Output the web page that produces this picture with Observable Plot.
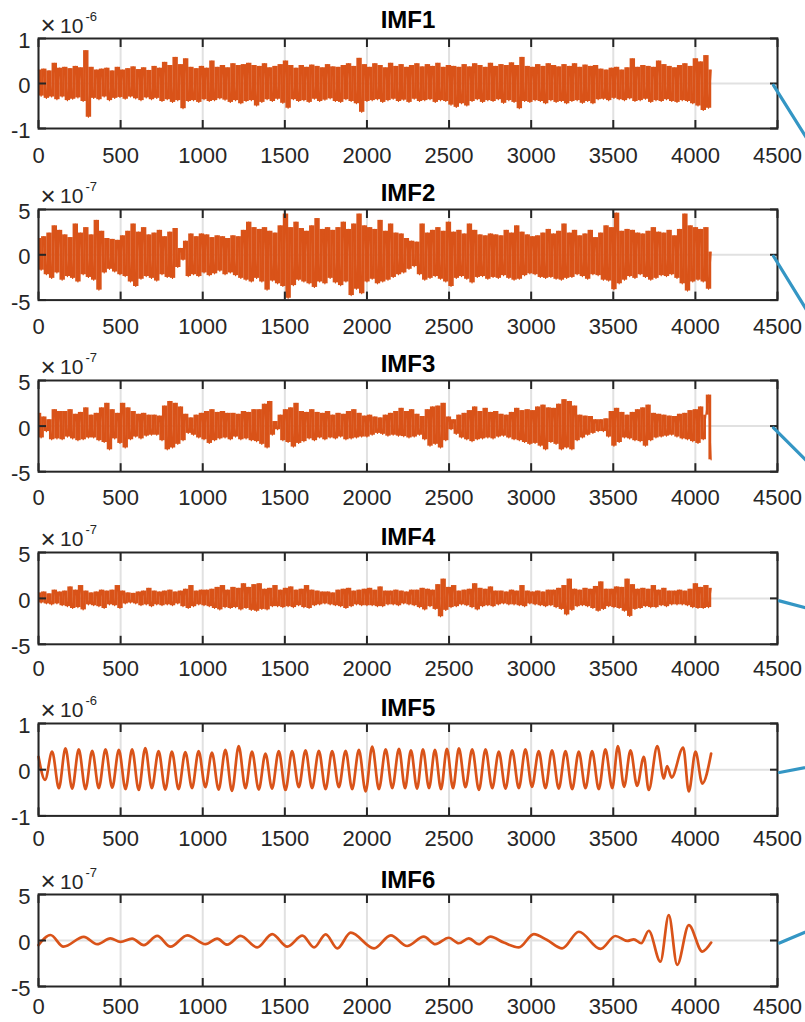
<!DOCTYPE html>
<html><head><meta charset="utf-8">
<script src="https://cdn.jsdelivr.net/npm/d3@7"></script>
<script src="https://cdn.jsdelivr.net/npm/@observablehq/plot@0.6"></script>
<style>
html,body{margin:0;padding:0;background:#fff;overflow:hidden;}
#chart{position:relative;width:805px;height:1022px;overflow:hidden;background:#fff;}
#chart svg{position:absolute;left:0;}
</style></head><body><div id="chart"></div>
<script>
// ---------- data ----------
const titles = ["IMF1","IMF2","IMF3","IMF4","IMF5","IMF6"];
const exponents = ["-6","-7","-7","-7","-6","-7"];
const yLimits = [1,5,5,5,1,5];
const xTicks = [0,500,1000,1500,2000,2500,3000,3500,4000,4500];
const sampleStep = 16; // sample spacing of the noisy IMFs (x = index * step)

const imf1 = [
.30,-.28,.32,-.33,.28,-.30,.45,-.36,.34,-.30,.36,-.38,.33,-.35,.38,-.32,
.35,-.40,.73,-.75,.36,-.33,.30,-.36,.32,-.30,.34,-.38,.28,-.33,.36,-.31,
.30,-.35,.33,-.30,.37,-.34,.31,-.38,.35,-.32,.29,-.36,.38,-.33,.34,-.40,
.47,-.36,.40,-.42,.58,-.38,.42,-.56,.55,-.40,.36,-.38,.33,-.42,.38,-.36,
.34,-.40,.50,-.38,.36,-.34,.40,-.37,.35,-.42,.44,-.38,.40,-.45,.42,-.40,
.45,-.38,.40,-.50,.38,-.42,.44,-.36,.35,-.40,.38,-.35,.42,-.44,.50,-.55,
.40,-.36,.34,-.40,.40,-.38,.36,-.42,.41,-.35,.38,-.40,.35,-.37,.42,-.34,
.37,-.40,.36,-.42,.40,-.36,.44,-.40,.38,-.45,.56,-.64,.42,-.40,.36,-.38,
.44,-.36,.40,-.42,.35,-.38,.45,-.35,.38,-.40,.42,-.37,.36,-.42,.40,-.35,
.44,-.40,.37,-.38,.42,-.36,.38,-.42,.45,-.38,.36,-.40,.40,-.48,.38,-.53,
.36,-.45,.42,-.50,.37,-.40,.44,-.36,.40,-.42,.36,-.38,.45,-.40,.38,-.36,
.42,-.44,.40,-.38,.46,-.42,.40,-.56,.58,-.40,.38,-.42,.36,-.38,.42,-.40,
.38,-.45,.44,-.38,.40,-.42,.37,-.40,.42,-.45,.38,-.40,.44,-.38,.36,-.44,
.41,-.40,.38,-.45,.40,-.36,.32,-.35,.30,-.38,.34,-.33,.36,-.36,.30,-.38,
.35,-.34,.55,-.40,.36,-.38,.40,-.35,.38,-.42,.36,-.38,.50,-.40,.42,-.36,
.38,-.40,.35,-.42,.40,-.38,.44,-.40,.38,-.45,.55,-.50,.48,-.60,.62,-.55,
.30];

const imf2 = [
1.8,-1.7,2.0,-2.2,2.4,-2.6,3.2,-2.0,2.7,-2.8,2.2,-2.4,1.9,-2.6,3.4,-3.0,
2.4,-2.2,3.0,-2.5,2.2,-2.8,3.8,-3.9,2.6,-2.0,1.8,-1.6,1.7,-1.9,1.6,-2.2,
2.1,-2.4,2.6,-3.0,3.4,-3.5,2.5,-2.7,3.0,-2.4,2.2,-2.6,2.4,-2.9,2.7,-2.2,
2.0,-2.5,2.5,-2.6,2.9,-1.4,0.7,-0.6,1.5,-2.4,2.3,-2.2,2.0,-2.4,2.3,-2.0,
2.2,-2.3,1.9,-2.1,2.1,-1.8,2.0,-2.2,1.8,-2.0,2.1,-2.3,2.0,-2.6,2.7,-2.8,
3.6,-3.0,3.0,-2.6,2.8,-3.0,3.0,-3.9,2.6,-2.9,2.4,-3.2,3.2,-3.5,4.5,-4.8,
3.0,-3.4,3.6,-2.8,2.9,-3.0,2.6,-3.2,3.2,-3.6,4.0,-3.0,2.8,-3.2,3.0,-2.6,
2.7,-3.1,3.0,-3.4,3.6,-3.0,2.8,-4.5,3.4,-3.8,4.5,-4.3,3.2,-3.0,3.0,-2.7,
2.8,-3.2,3.8,-3.0,2.6,-2.8,3.4,-2.5,2.4,-2.2,2.3,-2.0,1.8,-1.6,1.5,-1.3,
1.4,-2.2,3.4,-2.8,2.4,-2.6,2.7,-2.4,3.0,-2.7,2.6,-3.0,3.6,-3.5,2.5,-2.6,
2.7,-2.4,2.3,-2.7,3.4,-3.1,2.7,-2.5,2.2,-2.4,2.1,-2.7,2.3,-2.5,2.2,-2.6,
2.1,-2.3,2.7,-2.6,2.4,-2.8,3.2,-2.7,2.5,-2.3,2.2,-2.1,2.0,-2.2,2.1,-2.5,
2.4,-2.6,2.8,-2.5,2.3,-2.7,2.6,-2.8,3.4,-2.6,2.4,-2.5,2.7,-2.2,2.1,-2.4,
2.3,-2.7,2.7,-2.2,1.9,-2.3,2.4,-2.8,3.2,-2.9,3.0,-3.85,4.6,-3.2,2.6,-2.8,
2.8,-2.4,2.7,-2.6,2.4,-2.2,2.3,-2.5,2.6,-2.8,3.0,-2.6,2.5,-2.3,2.4,-2.4,
2.7,-2.2,2.1,-2.6,2.8,-3.2,4.5,-4.0,3.2,-3.0,3.0,-2.8,2.8,-3.0,3.0,-3.8,
0.3];

const imf3 = [
1.4,-1.3,1.0,-0.6,0.7,-1.5,1.8,-1.4,1.6,-1.5,1.6,-1.2,1.8,-1.4,1.3,-1.6,
1.5,-1.5,2.0,-1.3,1.2,-1.3,1.4,-1.6,2.0,-1.8,2.5,-2.6,1.8,-1.4,1.4,-1.9,
2.5,-2.4,2.0,-1.5,1.6,-1.2,1.3,-1.4,1.4,-1.1,1.2,-1.0,1.2,-1.0,1.1,-1.6,
2.2,-2.6,2.7,-2.4,2.5,-2.0,2.1,-1.6,1.3,-0.8,0.9,-1.0,1.2,-1.3,1.4,-1.5,
1.6,-1.9,1.8,-1.6,1.5,-1.4,1.6,-1.3,1.4,-1.5,1.4,-1.2,1.3,-1.5,1.6,-1.4,
1.5,-1.6,1.8,-1.7,1.8,-2.0,2.4,-2.4,2.7,-1.0,0.5,-0.4,1.2,-1.6,1.8,-1.8,
2.0,-2.3,2.5,-1.9,1.6,-1.7,1.5,-1.4,1.8,-1.6,1.5,-1.3,1.4,-1.5,1.6,-1.3,
1.2,-1.4,1.4,-1.2,1.3,-1.5,1.6,-1.4,1.8,-1.3,1.4,-1.2,1.1,-1.2,1.2,-1.0,
1.0,-0.8,0.9,-0.9,1.2,-1.1,1.4,-1.0,1.6,-1.1,1.95,-1.15,1.6,-1.3,1.8,-1.2,
1.3,-1.0,1.05,-1.5,1.8,-2.2,2.1,-2.0,2.2,-2.4,2.5,-1.6,1.0,-0.4,0.7,-0.9,
1.2,-1.3,1.4,-1.5,1.7,-1.7,2.1,-1.5,1.6,-1.4,1.95,-1.3,1.5,-1.4,1.6,-1.2,
1.3,-1.1,1.2,-1.3,1.5,-1.5,1.95,-1.6,1.7,-1.8,1.8,-2.0,1.7,-1.9,2.1,-2.2,
2.3,-2.6,2.0,-1.8,1.95,-2.0,2.4,-2.6,2.9,-2.4,2.7,-2.6,2.2,-1.6,1.2,-1.3,
1.1,-1.0,1.05,-0.8,0.7,-0.6,0.7,-0.6,0.8,-1.2,1.6,-2.2,1.95,-1.8,1.5,-1.3,
1.2,-1.4,1.5,-1.6,1.8,-1.7,2.0,-2.2,2.3,-1.6,1.4,-1.3,1.3,-1.2,1.2,-1.1,
1.1,-1.0,1.05,-1.2,1.3,-1.4,1.4,-1.5,1.7,-1.7,1.8,-1.9,2.1,-1.5,1.2,3.4,
-3.7];

const imf4 = [
0.6,-0.5,0.7,-0.6,0.5,-0.7,0.9,-0.6,0.7,-0.8,0.8,-0.9,1.25,-1.1,0.9,-1.0,
1.4,-1.25,0.8,-0.7,0.6,-0.8,0.7,-0.9,0.9,-1.1,0.8,-0.7,0.9,-0.8,1.4,-1.1,
0.8,-0.6,0.6,-0.5,0.55,-0.6,0.7,-0.8,0.8,-0.7,1.1,-0.9,0.8,-0.7,0.7,-0.8,
0.8,-0.7,0.9,-0.8,0.7,-0.6,0.8,-0.9,1.0,-1.1,1.4,-0.9,0.8,-0.7,0.9,-0.8,
0.9,-0.9,1.0,-1.1,1.2,-1.25,1.4,-1.0,0.9,-1.1,1.2,-1.0,1.1,-1.25,1.6,-1.1,
1.2,-1.3,1.5,-1.4,1.6,-1.2,1.0,-1.25,1.1,-0.9,1.4,-0.9,0.9,-1.0,1.1,-0.9,
1.25,-1.0,0.9,-0.8,1.0,-1.0,1.4,-1.1,0.9,-0.8,0.8,-0.7,0.7,-0.6,0.7,-0.7,
0.6,-0.8,0.9,-0.9,1.0,-1.1,1.1,-0.9,0.8,-0.7,0.9,-0.8,1.0,-0.8,1.1,-0.8,
0.9,-0.9,1.25,-0.9,0.8,-0.7,0.8,-0.7,0.9,-0.8,0.8,-0.6,0.7,-0.7,0.9,-0.8,
0.9,-1.0,1.1,-1.25,1.0,-0.9,0.9,-1.2,1.5,-2.0,2.1,-1.3,1.2,-1.0,1.4,-0.9,
0.8,-0.7,0.9,-0.8,1.0,-1.0,1.6,-1.25,1.1,-0.9,1.0,-0.8,1.25,-0.9,0.8,-0.7,
0.8,-0.6,0.7,-0.7,0.9,-0.7,0.8,-0.8,1.4,-0.9,0.8,-0.6,0.7,-0.7,0.8,-0.8,
0.7,-0.9,0.9,-0.8,0.9,-1.0,1.1,-1.2,1.4,-1.8,2.1,-1.3,1.0,-0.9,0.9,-0.8,
1.1,-0.9,1.0,-1.1,1.3,-1.4,1.8,-1.2,1.0,-0.9,1.0,-1.0,1.25,-1.1,1.2,-1.4,
2.1,-1.96,1.5,-1.2,1.0,-1.1,1.1,-0.9,1.0,-1.0,1.4,-1.0,0.9,-0.8,1.1,-0.9,
0.8,-0.7,0.8,-0.7,0.9,-0.7,0.8,-0.8,1.0,-1.0,1.6,-1.1,1.2,-1.1,1.4,-1.0,
1.1];

// IMF5: turning points (sample index, value x1e-6)
const imf5X = [0,40,83,124,164,205,245,286,327,367,408,449,489,530,570,610,650,690,731,772,
812,853,894,935,975,1016,1056,1097,1138,1178,1219,1260,1300,1341,1382,1422,1463,1504,1544,1585,
1626,1666,1707,1748,1788,1829,1870,1910,1951,1992,2032,2073,2114,2154,2195,2232,2268,2305,2341,2378,
2414,2451,2487,2524,2560,2600,2641,2682,2722,2763,2803,2844,2884,2925,2965,3005,3046,3087,3127,3168,
3209,3250,3290,3331,3371,3412,3452,3494,3528,3566,3605,3645,3686,3716,3768,3808,3828,3855,3926,3960,
4001,4042,4096];
const imf5Y = [0.28,-0.22,0.39,-0.40,0.46,-0.41,0.44,-0.42,0.41,-0.40,0.44,-0.39,0.43,-0.42,0.44,-0.44,0.47,-0.40,0.40,-0.43,
0.39,-0.42,0.38,-0.40,0.40,-0.38,0.37,-0.43,0.43,-0.46,0.51,-0.40,0.39,-0.43,0.35,-0.41,0.40,-0.44,0.40,-0.38,
0.42,-0.40,0.41,-0.42,0.40,-0.38,0.41,-0.42,0.43,-0.47,0.50,-0.42,0.44,-0.40,0.45,-0.40,0.42,-0.41,0.44,-0.40,
0.43,-0.42,0.45,-0.40,0.46,-0.38,0.44,-0.44,0.44,-0.40,0.39,-0.41,0.42,-0.40,0.44,-0.37,0.40,-0.40,0.42,-0.41,
0.40,-0.42,0.39,-0.40,0.40,-0.42,0.44,-0.40,0.51,-0.37,0.42,-0.35,0.28,-0.44,0.51,-0.19,0.08,-0.17,0.48,-0.47,
0.39,-0.30,0.35];

// IMF6: turning points (sample index, value x1e-7)
const imf6X = [0,73,152,276,357,438,499,570,641,723,804,906,1017,1088,1149,1230,1332,1423,1515,1607,
1678,1749,1820,1901,2043,2145,2245,2346,2417,2498,2559,2620,2681,2752,2833,2925,3016,3097,3189,3290,
3422,3513,3585,3625,3670,3716,3787,3838,3889,3960,4042,4096];
const imf6Y = [-0.5,0.6,-0.67,0.4,-0.4,0.23,-0.15,0.2,-0.5,0.5,-0.67,0.56,-0.4,0.2,-0.45,0.5,-0.75,0.7,-0.67,0.52,
-0.75,0.67,-0.85,0.85,-0.85,0.56,-0.6,0.42,-0.4,0.3,-0.3,0.23,-0.4,0.42,-0.23,-0.75,0.7,0.05,-0.85,0.95,
-0.92,0.49,-0.05,0.13,-0.3,1.06,-2.3,2.76,-2.65,1.68,-1.2,-0.23];

// connector lines leaving each panel at the right (start x,y and end y at x = connEndX)
const connStartX = [4476,4476,4476,4512,4512,4512];
const connStartY = [-0.04,-0.16,-0.2,-0.27,-0.06,-0.27];
const connEndX = 4800;
const connEndY = [-1.93,-9.7,-6.0,-1.65,0.13,1.9];

// ---------- layout / style ----------
const panelTop = [38, 209.2, 380.4, 551.6, 722.8, 894];
const panelBottom = [128, 299.8, 471.6, 643.4, 815.2, 986];
const labelPad = [18.5, 18, 18, 16, 14.5, 12];
const titleDy = [-11, -8.5, -8, -7, -7, -7];
const ORANGE = "#D95319", BLUE = "#3496c4", GRID = "#e1e1e1", AX = "#262626";
const FONT = "'Liberation Sans', Arial, Helvetica, sans-serif";

const noisy = [imf1, imf2, imf3, imf4];
const series = noisy.map(arr => arr.map((v, i) => ({x: i * sampleStep, y: v})));
series.push(imf5X.map((x, i) => ({x, y: imf5Y[i]})));
series.push(imf6X.map((x, i) => ({x, y: imf6Y[i]})));
// dense-signal columns: span between consecutive samples
const columns = noisy.map(arr => arr.slice(0, -1).map((v, i) => ({x: (i + 0.5) * sampleStep, y1: v, y2: arr[i + 1]})));
const curves = ["linear","linear","linear","linear","monotone-x","monotone-x"];

const chart = document.getElementById("chart");
titles.forEach((title, k) => {
  const boxH = panelBottom[k] - panelTop[k];
  const mt = 38, mb = 38;
  const H = boxH + mt + mb;
  const lim = yLimits[k];
  const yTicks = [-lim, 0, lim];
  const conn = [{x: connStartX[k], y: connStartY[k]}, {x: connEndX, y: connEndY[k]}];
  const signalMarks = k < 4
    ? [Plot.ruleX(columns[k], {x: "x", y1: "y1", y2: "y2", stroke: ORANGE, strokeWidth: 2.8}),
       Plot.line(series[k], {x: "x", y: "y", stroke: ORANGE, strokeWidth: 1.2})]
    : [Plot.line(series[k], {x: "x", y: "y", stroke: ORANGE, strokeWidth: 2.7, curve: curves[k], strokeLinejoin: "round"})];
  const svg = Plot.plot({
    width: 805, height: H,
    marginLeft: 38, marginRight: 28, marginTop: mt, marginBottom: mb,
    x: {domain: [0, 4500], axis: null, label: null},
    y: {domain: [-lim, lim], axis: null, label: null},
    style: {fontFamily: FONT, fontSize: "22px", color: AX, background: "transparent", overflow: "visible"},
    marks: [
      Plot.gridX(xTicks, {stroke: GRID, strokeOpacity: 1, strokeWidth: 2}),
      Plot.gridY([0], {stroke: GRID, strokeOpacity: 1, strokeWidth: 2}),
      ...signalMarks,
      Plot.frame({stroke: AX, strokeWidth: 2}),
      Plot.axisX(xTicks, {anchor: "bottom", tickSize: 8, dy: -8, fill: "none", stroke: AX, strokeWidth: 2, label: null}),
      Plot.axisX(xTicks, {anchor: "top", tickSize: 8, dy: 8, fill: "none", stroke: AX, strokeWidth: 2, label: null}),
      Plot.axisY(yTicks, {anchor: "left", tickSize: 8, dx: 8, fill: "none", stroke: AX, strokeWidth: 2, label: null}),
      Plot.axisY(yTicks, {anchor: "right", tickSize: 8, dx: -8, fill: "none", stroke: AX, strokeWidth: 2, label: null}),
      Plot.axisX(xTicks, {anchor: "bottom", tickSize: 0, tickPadding: labelPad[k], fill: AX, fontSize: 22, label: null, tickFormat: d => String(d)}),
      Plot.axisY(yTicks, {anchor: "left", tickSize: 0, tickPadding: 8, dy: 2.5, fill: AX, fontSize: 22, label: null, tickFormat: d => String(d)}),
      Plot.line(conn, {x: "x", y: "y", stroke: BLUE, strokeWidth: 3.2, clip: false}),
      Plot.text([title], {frameAnchor: "top", dy: titleDy[k], lineAnchor: "bottom", fontSize: 24, fontWeight: "bold", fill: "#000"}),
      Plot.text(["×"], {frameAnchor: "top-left", textAnchor: "start", lineAnchor: "bottom", dx: 2, dy: -4.5, fontSize: 26, fill: AX}),
      Plot.text(["10"], {frameAnchor: "top-left", textAnchor: "start", lineAnchor: "bottom", dx: 21.5, dy: -6, fontSize: 21, fill: AX}),
      Plot.text([exponents[k]], {frameAnchor: "top-left", textAnchor: "start", lineAnchor: "bottom", dx: 47, dy: -18, fontSize: 13, fill: AX})
    ]
  });
  svg.style.top = (panelTop[k] - mt) + "px";
  chart.appendChild(svg);
});
</script>
</body></html>
